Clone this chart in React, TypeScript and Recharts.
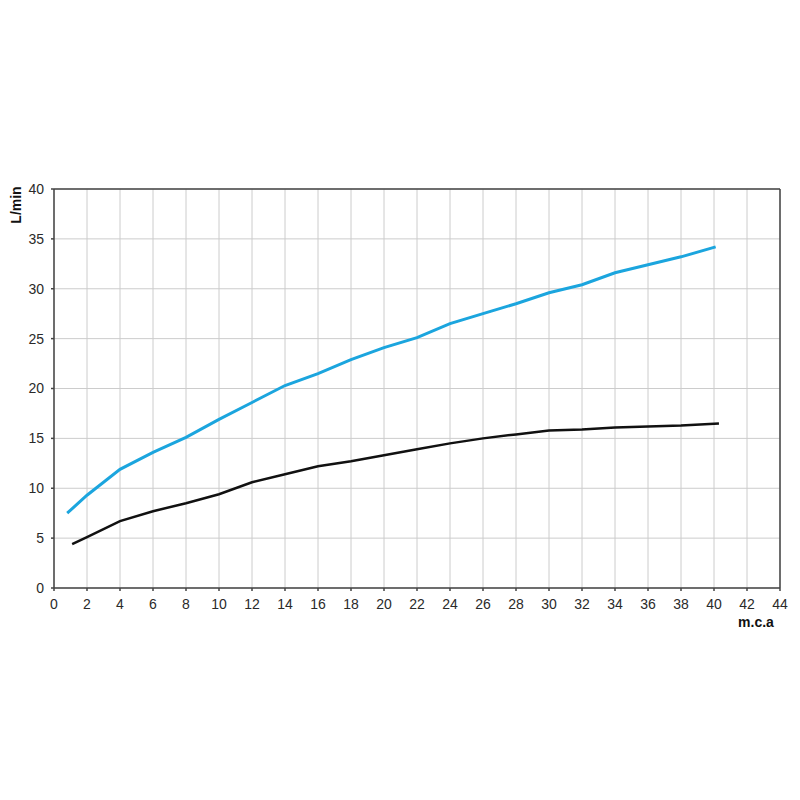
import { CartesianGrid, Line, LineChart, ReferenceLine, XAxis, YAxis } from 'recharts';

const blueHead = [0.8, 2, 4, 6, 8, 10, 12, 14, 16, 18, 20, 22, 24, 26, 28, 30, 32, 34, 36, 38, 40.1];
const blueFlow = [7.5, 9.3, 11.9, 13.6, 15.1, 16.9, 18.6, 20.3, 21.5, 22.9, 24.1, 25.1, 26.5, 27.5, 28.5, 29.6, 30.4, 31.6, 32.4, 33.2, 34.2];

const blackHead = [1.1, 2, 4, 6, 8, 10, 12, 14, 16, 18, 20, 22, 24, 26, 28, 30, 32, 34, 36, 38, 40.3];
const blackFlow = [4.4, 5.1, 6.7, 7.7, 8.5, 9.4, 10.6, 11.4, 12.2, 12.7, 13.3, 13.9, 14.5, 15.0, 15.4, 15.8, 15.9, 16.1, 16.2, 16.3, 16.5];

const xTicks = [0, 2, 4, 6, 8, 10, 12, 14, 16, 18, 20, 22, 24, 26, 28, 30, 32, 34, 36, 38, 40, 42, 44];
const yTicks = [0, 5, 10, 15, 20, 25, 30, 35, 40];

const blueData = blueHead.map((x, i) => ({ x, y: blueFlow[i] }));
const blackData = blackHead.map((x, i) => ({ x, y: blackFlow[i] }));

const axisColor = '#444444';
const font = 'Liberation Sans, Arial, sans-serif';
const tickStyle = { fill: '#2a2a2a', fontSize: 14, fontFamily: font };

export default function App() {
  return (
    <div style={{ position: 'absolute', left: 0, top: 0, width: 800, height: 800, background: '#fff' }}>
      <LineChart width={800} height={800} margin={{ top: 189, right: 20, bottom: 182, left: 0 }}>
        <CartesianGrid stroke="#cccccc" strokeWidth={1} />
        <XAxis
          type="number"
          dataKey="x"
          domain={[0, 44]}
          ticks={xTicks}
          interval={0}
          height={30}
          stroke={axisColor}
          strokeWidth={1.5}
          tickSize={3}
          tickMargin={8}
          tick={tickStyle}
        />
        <YAxis
          type="number"
          dataKey="y"
          domain={[0, 40]}
          ticks={yTicks}
          interval={0}
          width={54}
          stroke={axisColor}
          strokeWidth={1.5}
          tickSize={3}
          tickMargin={7}
          tick={tickStyle}
        />
        <ReferenceLine y={40} stroke={axisColor} strokeWidth={1.5} />
        <ReferenceLine x={44} stroke={axisColor} strokeWidth={1.5} />
        <Line data={blueData} dataKey="y" stroke="#1ba5de" strokeWidth={3} dot={false} isAnimationActive={false} />
        <Line data={blackData} dataKey="y" stroke="#111111" strokeWidth={2.5} dot={false} isAnimationActive={false} />
        <text
          x={17}
          y={205}
          transform="rotate(-90 17 205)"
          textAnchor="middle"
          dominantBaseline="middle"
          style={{ fontSize: 14, fontWeight: 'bold', fontFamily: font, fill: '#111' }}
        >
          L/min
        </text>
        <text
          x={756}
          y={627}
          textAnchor="middle"
          style={{ fontSize: 14, fontWeight: 'bold', fontFamily: font, fill: '#111' }}
        >
          m.c.a
        </text>
      </LineChart>
    </div>
  );
}
